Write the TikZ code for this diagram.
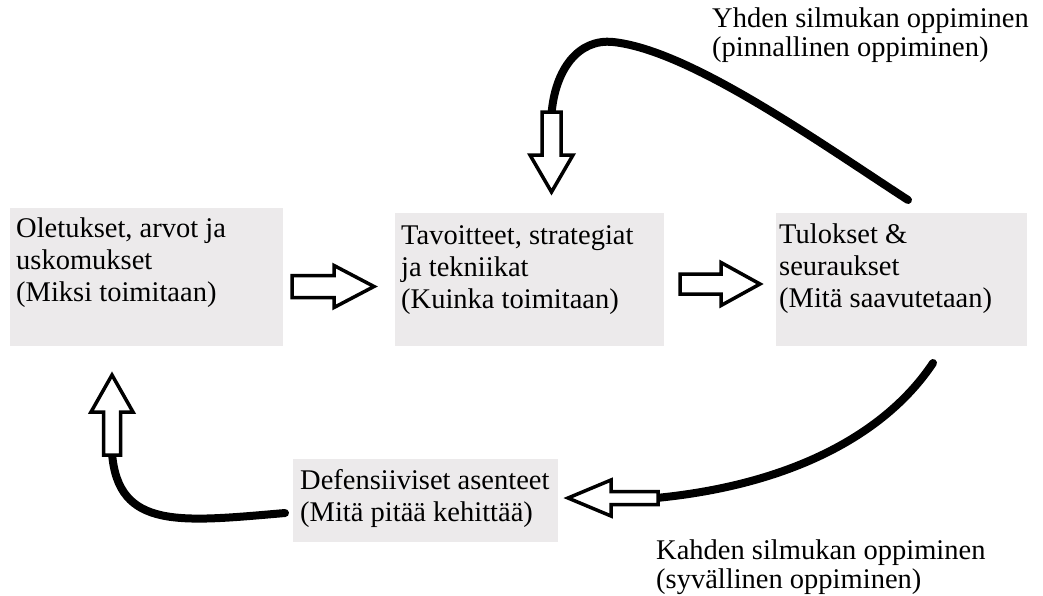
\documentclass[tikz,border=0pt]{standalone}
\usepackage{fontspec}
\setmainfont{Liberation Serif}
\definecolor{boxgray}{RGB}{236,234,235}
\tikzset{
  boxnode/.style={fill=boxgray, draw=none, inner sep=0pt, anchor=north west},
  txt/.style={inner sep=0pt, anchor=north west, align=left, font=\fontsize{28.5}{32}\selectfont},
  lbl/.style={inner sep=0pt, anchor=north west, align=left, font=\fontsize{28.5}{29}\selectfont},
  arrowline/.style={draw=black, fill=white, line width=3.5pt, line join=miter},
  curveline/.style={draw=black, line width=8pt, line cap=round},
  pics/barrow/.style n args={4}{code={
    \draw[arrowline] (-#1/2,-#2) -- (#1/2-#4,-#2) -- (#1/2-#4,-#3) -- (#1/2,0)
      -- (#1/2-#4,#3) -- (#1/2-#4,#2) -- (-#1/2,#2) -- cycle;
  }}
}
\newcommand{\firstline}{\rule{0pt}{21pt}}
\begin{document}
\begin{tikzpicture}[x=1pt,y=-1pt]
\useasboundingbox[fill=white] (0,0) rectangle (1043,595);

% boxes
\node[boxnode, minimum width=273pt, minimum height=138pt] (b1) at (10,208) {};
\node[boxnode, minimum width=269pt, minimum height=133pt] (b2) at (395,213) {};
\node[boxnode, minimum width=251pt, minimum height=133pt] (b3) at (776,213) {};
\node[boxnode, minimum width=265pt, minimum height=83pt] (b4) at (293,459) {};

% box texts
\node[txt] (t1) at (16,216) {\firstline Oletukset, arvot ja\\uskomukset\\(Miksi toimitaan)};
\node[txt] (t2) at (401,223) {\firstline Tavoitteet, strategiat\\ja tekniikat\\(Kuinka toimitaan)};
\node[txt] (t3) at (779,222) {\firstline Tulokset \&\\seuraukset\\(Mitä saavutetaan)};
\node[txt] (t4) at (300,468) {\firstline Defensiiviset asenteet\\(Mitä pitää kehittää)};

% loop labels
\node[lbl] (l1) at (712,6) {\firstline Yhden silmukan oppiminen\\(pinnallinen oppiminen)};
\node[lbl] (l2) at (656,538) {\firstline Kahden silmukan oppiminen\\(syvällinen oppiminen)};

% curve end points
\coordinate (c1s) at (908,200);
\coordinate (c1p) at (613,42);
\coordinate (c1e) at (551.5,114);
\coordinate (c2s) at (933,363);
\coordinate (c2e) at (656,498);
\coordinate (c3s) at (112,453);
\coordinate (c3e) at (285,513);

% curves
\draw[curveline] (c1s) .. controls (820,143) and (690,50) .. (c1p)
  .. controls (578,38.4) and (555,70) .. (c1e);
\draw[curveline] (c2s) .. controls (885,435) and (790,485) .. (c2e);
\draw[curveline] (c3s) .. controls (118,530) and (180,522) .. (c3e);

% block arrows
\pic (a1) at (333,286.5) {barrow={82}{11}{21}{40}};
\pic (a2) at (720,284) {barrow={80}{10}{21.5}{39}};
\pic[rotate=-90] (a3) at (551.5,152) {barrow={80}{9.5}{21.5}{37}};
\pic[rotate=180] (a4) at (613,498) {barrow={90}{6.5}{18}{43}};
\pic[rotate=90] (a5) at (112,415) {barrow={80}{8.5}{21}{37}};
\end{tikzpicture}
\end{document}
